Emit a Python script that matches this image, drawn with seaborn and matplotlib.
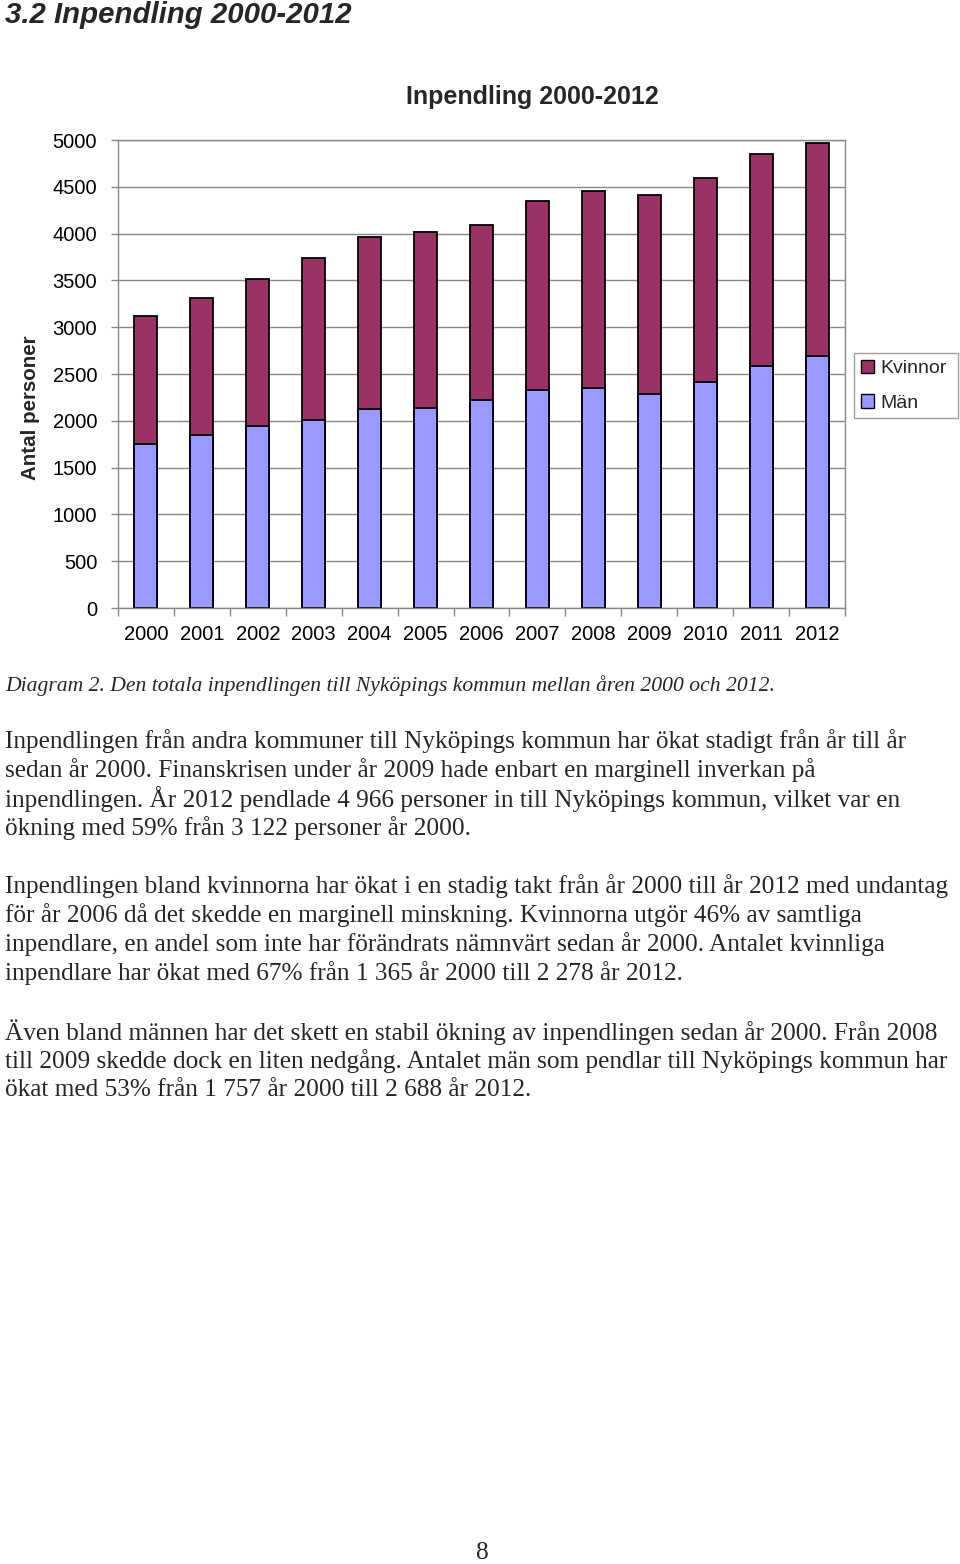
import matplotlib
matplotlib.use("Agg")
import matplotlib.pyplot as plt
import seaborn as sns
import pandas as pd
from matplotlib.patches import Patch

years = ["2000", "2001", "2002", "2003", "2004", "2005", "2006",
         "2007", "2008", "2009", "2010", "2011", "2012"]
maen = [1757, 1848, 1944, 2009, 2126, 2137, 2222, 2329, 2350, 2286, 2415, 2585, 2688]
kvinnor = [1365, 1464, 1571, 1730, 1838, 1880, 1870, 2019, 2105, 2126, 2179, 2265, 2278]
yticks = list(range(0, 5001, 500))

header = "3.2 Inpendling 2000-2012"
chart_title = "Inpendling 2000-2012"
ylabel = "Antal personer"
legend_labels = ["Kvinnor", "Män"]
caption = "Diagram 2. Den totala inpendlingen till Nyköpings kommun mellan åren 2000 och 2012."
paragraphs = [
    ["Inpendlingen från andra kommuner till Nyköpings kommun har ökat stadigt från år till år",
     "sedan år 2000. Finanskrisen under år 2009 hade enbart en marginell inverkan på",
     "inpendlingen. År 2012 pendlade 4 966 personer in till Nyköpings kommun, vilket var en",
     "ökning med 59% från 3 122 personer år 2000."],
    ["Inpendlingen bland kvinnorna har ökat i en stadig takt från år 2000 till år 2012 med undantag",
     "för år 2006 då det skedde en marginell minskning. Kvinnorna utgör 46% av samtliga",
     "inpendlare, en andel som inte har förändrats nämnvärt sedan år 2000. Antalet kvinnliga",
     "inpendlare har ökat med 67% från 1 365 år 2000 till 2 278 år 2012."],
    ["Även bland männen har det skett en stabil ökning av inpendlingen sedan år 2000. Från 2008",
     "till 2009 skedde dock en liten nedgång. Antalet män som pendlar till Nyköpings kommun har",
     "ökat med 53% från 1 757 år 2000 till 2 688 år 2012."],
]
page_number = "8"

df = pd.DataFrame({"year": years, "Män": maen, "Kvinnor": kvinnor})
df["total"] = df["Män"] + df["Kvinnor"]

sns.set_theme(style="white")
plt.rcParams["font.family"] = ["Liberation Sans", "DejaVu Sans"]

W, H = 960, 1564
fig = plt.figure(figsize=(W / 100, H / 100), dpi=100)
ax = fig.add_axes([118 / W, 1 - 608 / H, (845 - 118) / W, (608 - 140) / H])

c_k = "#993366"
c_m = "#9999FF"
sns.barplot(data=df, x="year", y="total", color=c_k, width=0.41,
            edgecolor="black", linewidth=1.3, saturation=1, ax=ax)
sns.barplot(data=df, x="year", y="Män", color=c_m, width=0.41,
            edgecolor="black", linewidth=1.3, saturation=1, ax=ax)

ax.set_xlim(-0.5, len(years) - 0.5)
ax.set_ylim(0, 5000)
ax.set_yticks(yticks)
ax.set_yticklabels([str(t) for t in yticks], fontsize=14.5)
ax.yaxis.grid(True, color="#888888", linewidth=1.0)
ax.set_axisbelow(True)
ax.set_xlabel("")
ax.set_ylabel("")
for s in ax.spines.values():
    s.set_color("#888888")
    s.set_linewidth(1.0)
ax.tick_params(axis="y", which="major", length=5, width=1, color="#888888",
               left=True, pad=10, labelcolor="black")
ax.tick_params(axis="x", which="major", length=0, pad=12, labelsize=14.5, labelcolor="black")
ax.set_xticks([i - 0.5 for i in range(len(years) + 1)], minor=True)
ax.tick_params(axis="x", which="minor", length=6, width=1, color="#888888", bottom=True)

fig.text(30 / W, 1 - 408 / H, ylabel, rotation=90, ha="center", va="center",
         fontsize=14.8, fontweight="bold")
fig.text(532 / W, 1 - 97 / H, chart_title, ha="center", va="center",
         fontsize=18, fontweight="bold")
fig.text(5 / W, 1 - 15 / H, header, ha="left", va="center",
         fontsize=21.2, fontweight="bold", fontstyle="italic")

handles = [Patch(facecolor=c_k, edgecolor="black", linewidth=1),
           Patch(facecolor=c_m, edgecolor="black", linewidth=1)]
leg = fig.legend(handles, legend_labels, loc="upper left", mode="expand",
                 bbox_to_anchor=(854 / W, 1 - 418 / H, 104 / W, 65 / H),
                 bbox_transform=fig.transFigure,
                 borderaxespad=0, fontsize=14, frameon=True, fancybox=False,
                 handlelength=0.7, handleheight=0.7, handletextpad=0.3,
                 labelspacing=0.85, borderpad=0.35)
leg.get_frame().set_edgecolor("#888888")
leg.get_frame().set_linewidth(1.0)

serif = ["Liberation Serif", "DejaVu Serif"]
fig.text(5 / W, 1 - 686 / H, caption, ha="left", va="center",
         fontsize=15.6, fontstyle="italic", family=serif)

starts = [741, 886, 1032]
for start, para in zip(starts, paragraphs):
    for i, line in enumerate(para):
        fig.text(5 / W, 1 - (start + 29 * i) / H, line, ha="left", va="center",
                 fontsize=18.2, family=serif)

fig.text(482 / W, 1 - 1553 / H, page_number, ha="center", va="center",
         fontsize=18.2, family=serif)

fig.savefig("out.png", dpi=100, facecolor="white")
